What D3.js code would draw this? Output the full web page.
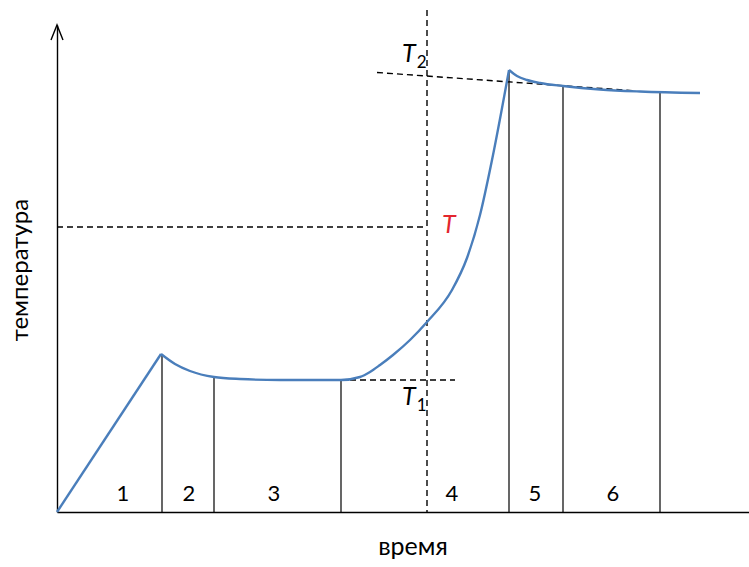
<!DOCTYPE html>
<html><head><meta charset="utf-8">
<script src="https://cdn.jsdelivr.net/npm/d3@7/dist/d3.min.js"></script>
<style>body{margin:0;background:#fff}svg{display:block}text{font-family:Lato,"Open Sans",sans-serif}</style>
</head><body>
<script>
// time (arbitrary units), temperature (arbitrary units)
const heatingLine = [[0,0],[104,158]];
const coolingCurve = [[104,158],[118,148],[133,141],[157,135],[183,133],[223,132],[284,132],[303,135],[313,140],[323,147],[336,157],[353,172],[370,190],[395,222],[410,254],[423,297],[435,352],[452,442]];
const finalCurve = [[452,442],[460,436],[470,432],[483,429],[506,426],[543,422.5],[583,420.5],[643,419]];
const stageBounds = [[105,158],[157,135],[284,132],[452,442],[506,426],[603,420]];
const stageLabels = ["1","2","3","4","5","6"];
const stageLabelTimes = [66,132,217,395,478,556];
const markerTime = 370;
const levelT = 285, levelT1 = 132;
const t2Line = [[320,439.5],[576,421.3]];
const t1Range = [223,398];

const W=749,H=567;
const svg=d3.select("body").append("svg").attr("width",W).attr("height",H);
const x=d3.scaleLinear().domain([0,692]).range([57,749]);
const y=d3.scaleLinear().domain([0,487]).range([512,25]);

// axes
svg.append("g").attr("transform","translate(0,512)")
  .call(d3.axisBottom(x).tickValues([]).tickSizeOuter(0))
  .select(".domain").attr("stroke","#000").attr("stroke-width",1.6);
svg.append("g").attr("transform","translate(57,0)")
  .call(d3.axisLeft(y).tickValues([]).tickSizeOuter(0))
  .select(".domain").attr("stroke","#000").attr("stroke-width",1.4);
svg.append("path").attr("d",`M${x(0)-6},${y(487)+15}L${x(0)},${y(487)}L${x(0)+6},${y(487)+15}`)
  .attr("fill","none").attr("stroke","#000").attr("stroke-width",1.4);

// dashed guides
const dash="6,4";
svg.append("line").attr("x1",x(markerTime)).attr("x2",x(markerTime)).attr("y1",10).attr("y2",y(0))
  .attr("stroke","#000").attr("stroke-width",1.4).attr("stroke-dasharray",dash);
svg.append("line").attr("x1",x(0)).attr("x2",x(markerTime)).attr("y1",y(levelT)).attr("y2",y(levelT))
  .attr("stroke","#000").attr("stroke-width",1.4).attr("stroke-dasharray",dash);
svg.append("line").attr("x1",x(t1Range[0])).attr("x2",x(t1Range[1])).attr("y1",y(levelT1)).attr("y2",y(levelT1))
  .attr("stroke","#000").attr("stroke-width",1.4).attr("stroke-dasharray",dash);
svg.append("line").attr("x1",x(t2Line[0][0])).attr("x2",x(t2Line[1][0])).attr("y1",y(t2Line[0][1])).attr("y2",y(t2Line[1][1]))
  .attr("stroke","#000").attr("stroke-width",1.4).attr("stroke-dasharray",dash);

// stage boundaries
svg.selectAll(".stage").data(stageBounds).join("line")
  .attr("x1",d=>x(d[0])).attr("x2",d=>x(d[0])).attr("y1",d=>y(d[1])).attr("y2",y(0))
  .attr("stroke","#000").attr("stroke-width",1.2);

// curve
const lineStraight=d3.line().x(d=>x(d[0])).y(d=>y(d[1]));
const lineCurve=d3.line().x(d=>x(d[0])).y(d=>y(d[1])).curve(d3.curveMonotoneX);
[[heatingLine,lineStraight],[coolingCurve,lineCurve],[finalCurve,lineCurve]].forEach(([d,g])=>{
  svg.append("path").attr("d",g(d)).attr("fill","none").attr("stroke","#4a7ebb").attr("stroke-width",2.4).attr("stroke-linejoin","round");
});

// stage labels
svg.selectAll(".lbl").data(stageLabels).join("text")
  .attr("x",(d,i)=>x(stageLabelTimes[i])).attr("y",501).attr("text-anchor","middle")
  .attr("font-size",22).attr("fill","#000").text(d=>d);

// T labels
function tLabel(px,py,sub,color){
  const t=svg.append("text").attr("x",px).attr("y",py).attr("font-size",25).attr("font-style","italic").attr("fill",color);
  t.append("tspan").text("T");
  if(sub) t.append("tspan").attr("dx",1).attr("dy",6).attr("font-size",17).attr("font-style","normal").text(sub);
}
tLabel(402,62,"2","#000");
tLabel(442,233,null,"#e3262e");
tLabel(402,405,"1","#000");

// axis titles
svg.append("text").attr("x",413).attr("y",555).attr("text-anchor","middle").attr("font-size",25).attr("fill","#000").text("время");
svg.append("text").attr("transform","translate(28,270) rotate(-90)").attr("text-anchor","middle").attr("font-size",24).attr("fill","#000").text("температура");
</script>
</body></html>
